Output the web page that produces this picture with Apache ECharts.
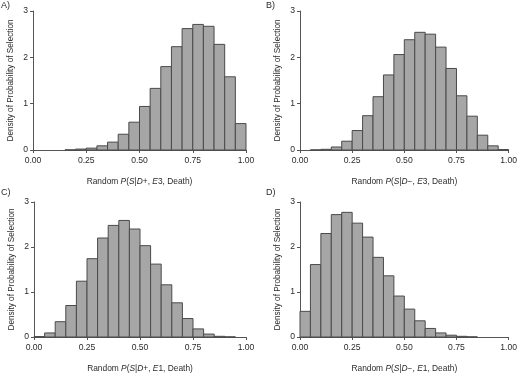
<!DOCTYPE html>
<html>
<head>
<meta charset="utf-8">
<script src="https://cdn.jsdelivr.net/npm/echarts@6/dist/echarts.min.js"></script>
<style>
  html, body { margin: 0; padding: 0; background: #fff; }
  #chart { width: 520px; height: 374px; }
</style>
</head>
<body>
<div id="chart"></div>
<script>
// histogram bins (left edges), width 0.05
const binStarts = [0, 0.05, 0.1, 0.15, 0.2, 0.25, 0.3, 0.35, 0.4, 0.45,
  0.5, 0.55, 0.6, 0.65, 0.7, 0.75, 0.8, 0.85, 0.9, 0.95]
const binWidth = 0.05

// densities
const densityA = [0, 0, 0, 0.003, 0.02, 0.04, 0.09, 0.17, 0.34, 0.6,
  0.94, 1.33, 1.8, 2.23, 2.62, 2.71, 2.67, 2.28, 1.58, 0.57]
const densityB = [0, 0.003, 0.015, 0.065, 0.19, 0.42, 0.74, 1.15, 1.62, 2.06,
  2.38, 2.54, 2.5, 2.22, 1.76, 1.17, 0.73, 0.32, 0.09, 0.01]
const densityC = [0.01, 0.09, 0.34, 0.7, 1.24, 1.74, 2.2, 2.48, 2.59, 2.4,
  2.03, 1.62, 1.16, 0.76, 0.41, 0.18, 0.065, 0.015, 0.003, 0]
const densityD = [0.57, 1.61, 2.3, 2.72, 2.77, 2.53, 2.22, 1.77, 1.36, 0.91,
  0.62, 0.36, 0.19, 0.09, 0.04, 0.015, 0.003, 0, 0, 0]

const panelLabels = ['A)', 'B)', 'C)', 'D)']
const xTitles = [
  'Random {i|P}({i|S}|{i|D}+, {i|E}3, Death)',
  'Random {i|P}({i|S}|{i|D}\u2212, {i|E}3, Death)',
  'Random {i|P}({i|S}|{i|D}+, {i|E}1, Death)',
  'Random {i|P}({i|S}|{i|D}\u2212, {i|E}1, Death)'
]
const yTitle = 'Density of Probability of Selection'

const font = 'Liberation Sans, Arial, Helvetica, sans-serif'
const textColor = '#2b2b2b'

const grids = [
  { left: 33, top: 11, width: 213, height: 139 },
  { left: 300, top: 11, width: 212, height: 139 },
  { left: 34, top: 202, width: 212, height: 139 },
  { left: 300, top: 202, width: 212, height: 139 }
]
const labelPos = [[1, 1], [266, 1], [1, 188], [266, 188]]
const allDensity = [densityA, densityB, densityC, densityD]

const chart = echarts.init(document.getElementById('chart'))

const option = {
  animation: false,
  backgroundColor: '#fff',
  textStyle: { fontFamily: font },
  graphic: panelLabels.map((t, i) => ({
    type: 'text',
    left: labelPos[i][0],
    top: labelPos[i][1],
    style: { text: t, fontSize: 9, fontFamily: font, fill: textColor }
  })),
  grid: grids,
  xAxis: grids.map((g, i) => ({
    type: 'value',
    gridIndex: i,
    min: 0,
    max: 1,
    interval: 0.25,
    name: xTitles[i],
    nameLocation: 'middle',
    nameGap: 28,
    nameTextStyle: {
      fontSize: 8.4,
      color: textColor,
      fontFamily: font,
      rich: {
        i: { fontStyle: 'italic', fontSize: 8.4, color: textColor, fontFamily: font }
      }
    },
    axisLine: { show: true, onZero: false, lineStyle: { color: '#555', width: 1 } },
    axisTick: { show: true, length: 3, lineStyle: { color: '#555' } },
    axisLabel: {
      fontSize: 8.6,
      color: textColor,
      margin: 6,
      formatter: v => v.toFixed(2)
    },
    splitLine: { show: false }
  })),
  yAxis: grids.map((g, i) => ({
    type: 'value',
    gridIndex: i,
    min: 0,
    max: 3,
    interval: 1,
    name: yTitle,
    nameLocation: 'middle',
    nameGap: 18,
    nameTextStyle: { fontSize: 8.2, color: textColor, fontFamily: font },
    axisLine: { show: true, lineStyle: { color: '#555', width: 1 } },
    axisTick: { show: true, length: 3, lineStyle: { color: '#555' } },
    axisLabel: { fontSize: 8.6, color: textColor, margin: 5 },
    splitLine: { show: false }
  })),
  series: allDensity.map((dens, i) => ({
    type: 'custom',
    xAxisIndex: i,
    yAxisIndex: i,
    data: binStarts.map((s, k) => [s, s + binWidth, dens[k]]).filter(d => d[2] > 0),
    renderItem: (params, api) => {
      const p0 = api.coord([api.value(0), 0])
      const p1 = api.coord([api.value(1), api.value(2)])
      return {
        type: 'rect',
        shape: { x: p0[0], y: p1[1], width: p1[0] - p0[0], height: p0[1] - p1[1] },
        style: { fill: '#a6a6a6', stroke: '#4a4a4a', lineWidth: 1 }
      }
    }
  }))
}

chart.setOption(option)
</script>
</body>
</html>
